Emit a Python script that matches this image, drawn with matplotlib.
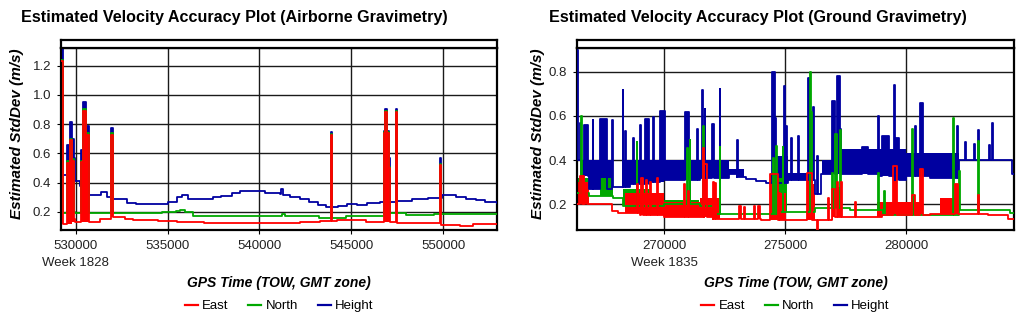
import numpy as np
import matplotlib.pyplot as plt
from matplotlib.ticker import FormatStrFormatter, MultipleLocator
from matplotlib.lines import Line2D

plt.rcParams["font.family"] = ["Liberation Sans", "DejaVu Sans"]
plt.rcParams["hatch.linewidth"] = 1.4

EAST_C = "#ff0000"
NORTH_C = "#00a800"
HEIGHT_C = "#0000a0"

# ---------------- Airborne gravimetry (week 1828) ----------------
air_xlim = (529200, 552930)
air_ylim = (0.077, 1.32)

air_east_t = [529200, 529800, 531300, 531900, 532700, 533100, 534500, 535500, 536300,
              537000, 542200, 543300, 544200, 545800, 547500, 549900, 550900, 551600, 552930]
air_east_v = [0.12, 0.13, 0.15, 0.164, 0.155, 0.147, 0.14, 0.135, 0.13,
              0.125, 0.13, 0.138, 0.145, 0.135, 0.127, 0.113, 0.105, 0.115, 0.115]

air_north_t = [529200, 534700, 535450, 535700, 535950, 536400, 541250, 541400, 543250,
               544700, 546800, 548000, 549500, 552930]
air_north_v = [0.19, 0.198, 0.205, 0.215, 0.2, 0.175, 0.185, 0.175, 0.16,
               0.17, 0.19, 0.182, 0.185, 0.185]

air_height_t = [529200, 529950, 530250, 530650, 531400, 531700, 531900, 532800, 533300,
                535030, 535530, 535800, 536100, 536800, 537500, 537900, 538500, 538950,
                539700, 540300, 541100, 541150, 541300, 541650, 542200, 542700, 543200,
                543650, 544300, 544740, 545300, 545830, 546540, 547460, 548330, 549200,
                549950, 550700, 551250, 551800, 552300, 552930]
air_height_v = [0.45, 0.41, 0.38, 0.316, 0.337, 0.30, 0.29, 0.26, 0.255,
                0.27, 0.30, 0.316, 0.29, 0.287, 0.30, 0.31, 0.33, 0.34,
                0.34, 0.33, 0.32, 0.36, 0.315, 0.305, 0.287, 0.265, 0.248,
                0.232, 0.24, 0.255, 0.25, 0.258, 0.265, 0.272, 0.287, 0.298,
                0.318, 0.30, 0.29, 0.28, 0.268, 0.264]

# spikes shared by the three components: start, end, peak per component
air_spk_t0 = [529200, 529530, 529690, 529800, 529910, 530300, 530380, 530560, 531930,
              543900, 546756, 546838, 546946, 547055, 547408, 549827]
air_spk_t1 = [529290, 529690, 529800, 529910, 529960, 530380, 530560, 530700, 532010,
              543960, 546838, 546946, 547055, 547110, 547490, 549882]
air_spk_east = [1.23, 0.536, 0.693, 0.55, 0.15, 0.54, 0.887, 0.727, 0.727,
                0.725, 0.74, 0.885, 0.74, 0.50, 0.885, 0.52]
air_spk_north = [1.24, 0.55, 0.70, 0.56, 0.2, 0.55, 0.90, 0.74, 0.74,
                 0.735, 0.745, 0.89, 0.745, 0.51, 0.89, 0.53]
air_spk_height = [1.40, 0.66, 0.818, 0.70, 0.57, 0.625, 0.95, 0.79, 0.775,
                  0.745, 0.755, 0.905, 0.755, 0.57, 0.905, 0.57]

# ---------------- Ground gravimetry (week 1835) ----------------
gnd_xlim = (266400, 284460)
gnd_ylim = (0.083, 0.908)

gnd_east_t = [266400, 267850, 268100, 269000, 270000, 272000, 274000, 276320, 276370,
              277000, 279000, 281000, 283400, 284200, 284460]
gnd_east_v = [0.20, 0.17, 0.16, 0.15, 0.14, 0.135, 0.13, 0.08, 0.13,
              0.14, 0.15, 0.155, 0.15, 0.135, 0.135]
# dense bursts: start, end, upper level
gnd_east_bands = [
    (266420, 266900, 0.30), (268400, 270000, 0.25), (270000, 271500, 0.21),
    (271500, 272300, 0.23), (274700, 275050, 0.25), (276120, 276240, 0.29),
    (277150, 277360, 0.28), (278800, 280700, 0.21), (281400, 282100, 0.23),
]
gnd_east_spikes = [
    (266530, 266600, 0.33), (266640, 266700, 0.33), (266740, 266800, 0.276),
    (268880, 268920, 0.29), (269050, 269110, 0.317), (269250, 269300, 0.31),
    (269420, 269460, 0.30), (269700, 269760, 0.32), (270820, 270860, 0.29),
    (270990, 271030, 0.26), (271600, 271650, 0.456), (271660, 271780, 0.38),
    (272020, 272060, 0.30), (272100, 272140, 0.297), (273100, 273180, 0.19),
    (273300, 273360, 0.185), (273700, 273760, 0.19), (273900, 273960, 0.19),
    (274380, 274700, 0.335), (274760, 274800, 0.25), (275900, 276120, 0.342),
    (276770, 276810, 0.23), (276940, 277070, 0.27), (277150, 277200, 0.30),
    (277300, 277340, 0.30), (277880, 277920, 0.21), (279460, 279630, 0.373),
    (280250, 280380, 0.24), (280580, 280700, 0.36), (282020, 282150, 0.29),
    (282970, 283010, 0.24),
]

gnd_north_t = [266400, 266900, 267900, 268300, 270000, 271500, 272050, 274700, 276250,
               277700, 279050, 282200, 284300, 284460]
gnd_north_v = [0.25, 0.236, 0.23, 0.19, 0.20, 0.19, 0.155, 0.165, 0.183,
               0.175, 0.15, 0.173, 0.16, 0.16]
gnd_north_bands = [
    (266400, 266900, 0.32), (267350, 267900, 0.32), (268300, 269400, 0.27),
    (269400, 270000, 0.23), (270000, 271450, 0.22), (274460, 275080, 0.32),
]
gnd_north_spikes = [
    (266580, 266620, 0.60), (268870, 268900, 0.48), (270940, 270970, 0.455),
    (271060, 271090, 0.49), (271600, 271630, 0.555), (272300, 272330, 0.46),
    (274500, 274530, 0.41), (274620, 274650, 0.465), (274900, 274930, 0.46),
    (276030, 276080, 0.797), (276080, 276120, 0.62), (276940, 276970, 0.34),
    (277060, 277150, 0.52), (277260, 277290, 0.535), (278840, 278870, 0.34),
    (279090, 279120, 0.26), (280260, 280300, 0.54), (281940, 281970, 0.59),
    (282190, 282220, 0.35), (282970, 283000, 0.486),
]

gnd_height_t = [266400, 266560, 266900, 267850, 268600, 269400, 270000, 271500, 272700,
                273000, 273400, 273800, 274200, 275100, 276240, 276500, 278900, 279500,
                280000, 281000, 282200, 284380, 284460]
gnd_height_v = [0.40, 0.33, 0.27, 0.28, 0.29, 0.30, 0.31, 0.32, 0.335,
                0.325, 0.315, 0.305, 0.295, 0.31, 0.245, 0.335, 0.33, 0.31,
                0.33, 0.32, 0.40, 0.335, 0.335]
gnd_height_bands = [
    (266560, 267850, 0.40), (268350, 272700, 0.40), (272700, 273300, 0.36),
    (274460, 275100, 0.42), (275100, 276000, 0.34), (276530, 277000, 0.40),
    (277000, 280000, 0.45), (280000, 282200, 0.43),
]
gnd_height_spikes = [
    (266400, 266440, 0.90), (266520, 266550, 0.57), (266690, 266860, 0.56),
    (267050, 267080, 0.58), (267350, 267650, 0.585), (267840, 267870, 0.58),
    (268290, 268320, 0.718), (268380, 268410, 0.53), (268710, 268740, 0.50),
    (268990, 269030, 0.56), (269200, 269390, 0.585), (269540, 269570, 0.597),
    (269830, 270050, 0.623), (270860, 271040, 0.62), (271350, 271380, 0.54),
    (271560, 271600, 0.717), (271680, 271710, 0.63), (271980, 272070, 0.565),
    (272300, 272330, 0.72), (273010, 273040, 0.492), (274460, 274580, 0.797),
    (274580, 274610, 0.59), (274950, 274980, 0.736), (275030, 275060, 0.555),
    (275240, 275270, 0.50), (275530, 275560, 0.51), (275950, 276040, 0.774),
    (276150, 276180, 0.64), (276310, 276340, 0.42), (276940, 277070, 0.67),
    (277150, 277270, 0.78), (277270, 277300, 0.54), (278180, 278430, 0.46),
    (278840, 278870, 0.60), (279000, 279300, 0.51), (279500, 279530, 0.74),
    (279550, 279700, 0.50), (280370, 280400, 0.555), (280580, 280700, 0.66),
    (282100, 282130, 0.555), (282430, 282460, 0.48), (282800, 282830, 0.475),
    (282970, 283000, 0.535), (283420, 283450, 0.47), (283550, 283580, 0.568),
]


def build(base_t, base_v, spikes):
    base_t = np.asarray(base_t, float)
    t = np.unique(np.concatenate([base_t, [s[0] for s in spikes], [s[1] for s in spikes]]))
    b = np.asarray(base_v, float)[np.searchsorted(base_t, t, side="right") - 1]
    v = b.copy()
    for t0, t1, p in spikes:
        m = (t >= t0) & (t < t1)
        v[m] = np.maximum(v[m], p)
    return t, b, v


def draw(ax, series, color, bands=None):
    if bands:
        bt, bb, bv = bands
        ax.fill_between(bt, bb, bv, step="post", facecolor="none", edgecolor=color,
                        hatch="|" * 14, lw=0, zorder=2)
    t, b, v = series
    ax.fill_between(t, b, v, step="post", color=color, lw=0, zorder=2)
    ax.step(t, v, where="post", color=color, lw=1.3, zorder=3)


def style_panel(fig, rect, xlim, ylim, xticks, week, title, title_x, ylab_x):
    left, bottom, width, height = rect
    ax = fig.add_axes(rect)
    strip = fig.add_axes([left, bottom + height, width, 8 / 321])
    for a in (ax, strip):
        for s in a.spines.values():
            s.set_linewidth(1.6)
            s.set_color("black")
    strip.set_xticks([])
    strip.set_yticks([])
    ax.set_xlim(*xlim)
    ax.set_ylim(*ylim)
    ax.set_xticks(xticks)
    ax.xaxis.set_major_formatter(FormatStrFormatter("%d"))
    ax.yaxis.set_major_locator(MultipleLocator(0.2))
    ax.yaxis.set_major_formatter(FormatStrFormatter("%.1f"))
    ax.tick_params(labelsize=9.5, length=3, pad=4, colors="black", labelcolor="#222222")
    ax.grid(True, color="#1a1a1a", lw=1.0)
    ax.set_axisbelow(True)
    ax.text(xticks[0], -0.183, week, transform=ax.get_xaxis_transform(),
            ha="center", va="center", fontsize=9.5, color="#222222")
    ax.text(0.5, -0.29, "GPS Time (TOW, GMT zone)", transform=ax.transAxes,
            ha="center", va="center", fontsize=10, fontweight="bold", style="italic")
    ax.text(ylab_x, 0.527, "Estimated StdDev (m/s)", transform=ax.transAxes, rotation=90,
            ha="center", va="center", fontsize=11, fontweight="bold", style="italic")
    fig.text(title_x, 1 - 17.5 / 321, title, ha="left", va="center",
             fontsize=11.6, fontweight="bold")
    handles = [Line2D([], [], color=c, lw=1.6) for c in (EAST_C, NORTH_C, HEIGHT_C)]
    ax.legend(handles, ["East", "North", "Height"], loc="center",
              bbox_to_anchor=(0.5, -0.418), ncol=3, frameon=False, fontsize=9.5,
              handlelength=1.0, handletextpad=0.3, columnspacing=1.5)
    return ax


fig = plt.figure(figsize=(10.24, 3.21), dpi=100)

ax1 = style_panel(fig, [61 / 1024, 91 / 321, 436 / 1024, 182 / 321], air_xlim, air_ylim,
                  [530000, 535000, 540000, 545000, 550000], "Week 1828",
                  "Estimated Velocity Accuracy Plot (Airborne Gravimetry)", 21 / 1024, -0.102)

air_spikes = list(zip(air_spk_t0, air_spk_t1))
draw(ax1, build(air_height_t, air_height_v,
                [(a, b, p) for (a, b), p in zip(air_spikes, air_spk_height)]), HEIGHT_C)
draw(ax1, build(air_north_t, air_north_v,
                [(a, b, p) for (a, b), p in zip(air_spikes, air_spk_north)]), NORTH_C)
draw(ax1, build(air_east_t, air_east_v,
                [(a, b, p) for (a, b), p in zip(air_spikes, air_spk_east)]), EAST_C)

ax2 = style_panel(fig, [577 / 1024, 91 / 321, 437 / 1024, 182 / 321], gnd_xlim, gnd_ylim,
                  [270000, 275000, 280000], "Week 1835",
                  "Estimated Velocity Accuracy Plot (Ground Gravimetry)", 549 / 1024, -0.089)

draw(ax2, build(gnd_height_t, gnd_height_v, gnd_height_spikes), HEIGHT_C,
     build(gnd_height_t, gnd_height_v, gnd_height_bands))
draw(ax2, build(gnd_north_t, gnd_north_v, gnd_north_spikes), NORTH_C,
     build(gnd_north_t, gnd_north_v, gnd_north_bands))
draw(ax2, build(gnd_east_t, gnd_east_v, gnd_east_spikes), EAST_C,
     build(gnd_east_t, gnd_east_v, gnd_east_bands))

fig.savefig("out.png", dpi=100, facecolor="white")
